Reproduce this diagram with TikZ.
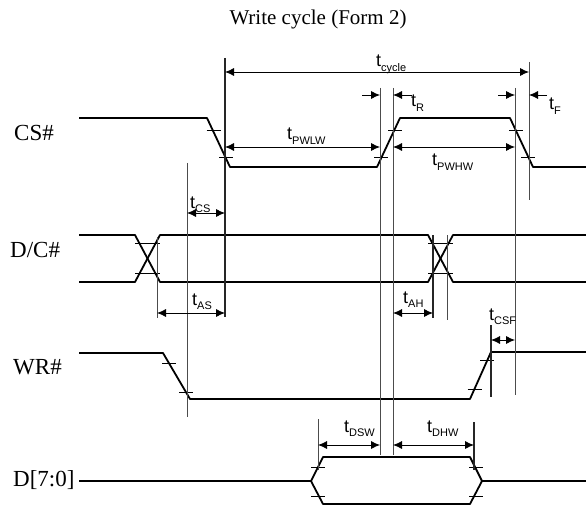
\documentclass[tikz,border=0pt]{standalone}
\usepackage{fontspec}
\setmainfont{Liberation Serif}
\newfontfamily\tfont{Liberation Sans}
\usetikzlibrary{arrows.meta}
% timing label: t with a lowered sans subscript
\newcommand{\tname}[1]{{\tfont\fontsize{18}{18}\selectfont t\raisebox{-4.5pt}{\fontsize{11}{11}\selectfont #1}}}
\begin{document}
\begin{tikzpicture}[x=1pt,y=-1pt,
  sig/.style={line width=1.8pt, line join=round},
  guide/.style={line width=0.8pt, black!70},
  guideb/.style={line width=1.3pt, black!85},
  dim/.style={line width=0.8pt, {Latex[length=9pt,width=8pt]}-{Latex[length=9pt,width=8pt]}},
  half/.style={line width=0.8pt, -{Latex[length=9pt,width=8pt]}},
  tk/.style={line width=0.7pt},
  sname/.style={font=\fontsize{23}{23}\selectfont, anchor=west, inner sep=0pt},
  tlab/.style={anchor=base west, inner sep=0pt}]
\useasboundingbox (0,0) rectangle (586,505);

\node (title) at (318,19) {\fontsize{21}{21}\selectfont Write cycle (Form 2)};

% signal names
\node[sname] (cs) at (14,133) {CS\#};
\node[sname] (dc) at (10,250) {D/C\#};
\node[sname] (wr) at (13,367) {WR\#};
\node[sname] (db) at (13,480) {D[7:0]};

% CS#
\draw[sig] (79,118)--(207,118)--(230,167)--(377,167)--(400,118)--(510,118)--(533,167)--(586,167);
% D/C#
\draw[sig] (79,235)--(135,235)--(160,282)--(428,282)--(453,235)--(586,235);
\draw[sig] (79,282)--(135,282)--(160,235)--(428,235)--(453,282)--(586,282);
% WR#
\draw[sig] (79,353)--(163,353)--(190,399)--(470,399)--(491,352)--(586,352);
% D[7:0]
\draw[sig] (79,481)--(311,481)--(323,457)--(470,457)--(482,481)--(586,481);
\draw[sig] (311,481)--(323,504)--(470,504)--(482,481);

% level ticks on the edges
\foreach \x/\y in {213.5/130,226/157,381/157,395/130,516/130,528/157,
  169/363,186/392,474.5/389,487/360,318/467,318/496,476/467,476/496}
  \draw[tk] (\x-7,\y)--(\x+7,\y);
\foreach \x in {135,428}{
  \draw[tk] (\x,243)--(\x+25,243);
  \draw[tk] (\x,273)--(\x+25,273);
}

% guide lines
\draw[guideb] (225,58)--(225,317);
\draw[guide] (157,237)--(157,318);
\draw[guide] (187,163)--(187,417);
\draw[guide] (380,88)--(380,455);
\draw[guide] (393,88)--(393,455);
\draw[guide] (515,88)--(515,395);
\draw[guide] (529,62)--(529,200);
\draw[guideb] (433,235)--(433,318);
\draw[guide] (447,235)--(447,320);
\draw[guideb] (491,325)--(491,397);
\draw[guide] (318,419)--(318,470);
\draw[guideb] (474,422)--(474,470);

% time intervals
\draw[dim] (225,72)--(529,72);
\draw[dim] (225,147)--(380,147);
\draw[dim] (393,147)--(515,147);
\draw[half] (362,95)--(380,95);
\draw[half] (412,95)--(393,95);
\draw[half] (498,95)--(515,95);
\draw[half] (547,95)--(529,95);
\draw[dim] (187,213)--(225,213);
\draw[dim] (157,313)--(225,313);
\draw[dim] (393,313)--(433,313);
\draw[dim] (491,340)--(515,340);
\draw[dim] (318,445)--(380,445);
\draw[dim] (393,445)--(474,445);

\node[tlab] (tcyc) at (376,67) {\tname{cycle}};
\node[tlab] (tr) at (411,107) {\tname{R}};
\node[tlab] (tf) at (549,110) {\tname{F}};
\node[tlab] (tpwlw) at (287,140) {\tname{PWLW}};
\node[tlab] (tpwhw) at (432,166) {\tname{PWHW}};
\node[tlab] (tcs) at (190,208) {\tname{CS}};
\node[tlab] (tas) at (192,305) {\tname{AS}};
\node[tlab] (tah) at (403,303) {\tname{AH}};
\node[tlab] (tcsf) at (489,320) {\tname{CSF}};
\node[tlab] (tdsw) at (344,432) {\tname{DSW}};
\node[tlab] (tdhw) at (427,432) {\tname{DHW}};
\end{tikzpicture}
\end{document}
